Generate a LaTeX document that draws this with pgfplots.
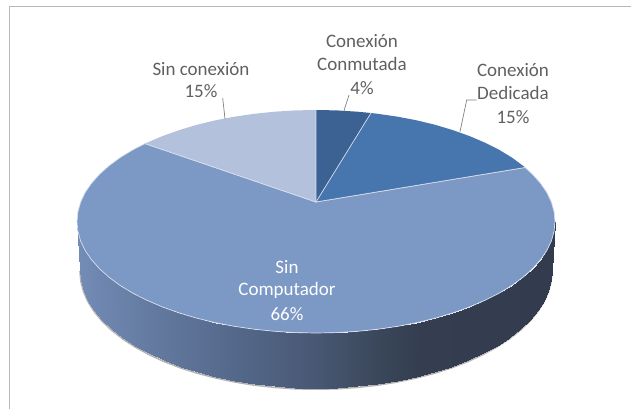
\documentclass[border=0pt]{standalone}
\usepackage{pgfplots}
\usepackage{pgfplotstable}
\pgfplotsset{compat=1.18}
\usepackage{fontspec}
\setmainfont{Carlito}
\definecolor{labelc}{RGB}{96,96,96}
\definecolor{leader}{RGB}{128,128,128}
\definecolor{cSinComp}{RGB}{124,152,196}
\definecolor{cSinCon}{RGB}{179,193,220}
\definecolor{cConm}{RGB}{59,98,146}
\definecolor{cDed}{RGB}{71,117,174}
\definecolor{rim}{RGB}{214,222,236}
\pgfplotstableread{
x y m
77 221.5 77
77.9 231.2 77.9
80.6 240.9 80.6
85.1 250.4 85.1
91.4 259.6 91.4
99.4 268.6 99.4
109 277.25 109
120.2 285.5 120.2
132.9 293.2 132.9
147 300.3 147
162.4 306.9 162.4
178.9 312.8 178.9
196.5 318.1 196.5
215 322.6 215
234.3 326.3 234.3
254.1 329.2 254.1
274.5 331.3 274.5
295.2 332.6 295.2
316 333 316
336.8 332.6 336.8
357.5 331.3 357.5
377.9 329.2 377.9
397.7 326.3 397.7
417 322.6 417
435.5 318.1 435.5
453.1 312.8 453.1
469.6 306.9 469.6
485 300.3 485
499.1 293.2 499.1
511.8 285.5 511.8
523 277.25 523
532.6 268.6 532.6
540.6 259.6 540.6
546.9 250.4 546.9
551.4 240.9 551.4
554.1 231.2 554.1
555 221.5 555
80 270 77
80.9 280.3 77.9
83.6 290.5 80.6
88 300.5 85.1
94.2 310.4 91.4
102.1 319.9 99.4
111.6 329 109
122.7 337.7 120.2
135.2 345.8 132.9
149.1 353.4 147
164.3 360.4 162.4
180.6 366.7 178.9
198 372.2 196.5
216.3 376.9 215
235.3 380.9 234.3
254.9 384 254.1
275 386.2 274.5
295.4 387.6 295.2
316 388 316
336.6 387.6 336.8
357 386.2 357.5
377.1 384 377.9
396.7 380.9 397.7
415.7 376.9 417
434 372.2 435.5
451.4 366.7 453.1
467.7 360.4 469.6
482.9 353.4 485
496.8 345.8 499.1
509.3 337.7 511.8
520.4 329 523
529.9 319.9 532.6
537.8 310.4 540.6
544 300.5 546.9
548.4 290.5 551.4
551.1 280.3 554.1
552 270 555
}\sidetable
\begin{document}
\begin{tikzpicture}
\begin{axis}[
  at={(0,0)}, anchor=south west,
  scale only axis, width=631pt, height=409pt,
  xmin=0, xmax=631, ymin=0, ymax=409, y dir=reverse,
  axis lines=none, clip=true,
  colormap={side}{rgb255(0.77cm)=(115,140,182); rgb255(1.5cm)=(100,122,160); rgb255(2.3cm)=(85,105,140); rgb255(3.16cm)=(72,88,115); rgb255(3.8cm)=(58,70,90); rgb255(4.2cm)=(52,62,80); rgb255(5.55cm)=(50,60,78)},
  point meta min=77, point meta max=555,
]
\path (axis cs:0,0) rectangle (axis cs:631,409);
% frame
\addplot[color=black!28, line width=1.6pt, forget plot] coordinates {(9.5,409) (9.5,6.5) (631,6.5)};
% shadow below the side
\addplot[color=black!30, line width=1.6pt, yshift=-1.2pt, forget plot] table[x=x,y=y,skip coords between index={0}{37}] {\sidetable};
% side
\addplot[surf, shader=interp, mesh/rows=2, mesh/ordering=x varies, point meta=explicit, forget plot] table[x=x,y=y,meta=m] {\sidetable};
% wedges
\addplot[fill=cSinComp, draw=rim, line width=0.7pt, forget plot] coordinates {
(316,202) (525,167.5) (532.6,174.4) (540.6,183.4) (546.9,192.6) (551.4,202.1) (554.1,211.8) (555,221.5)
(554.1,231.2) (551.4,240.9) (546.9,250.4) (540.6,259.6) (532.6,268.6) (523,277.25) (511.8,285.5) (499.1,293.2) (485,300.3) (469.6,306.9) (453.1,312.8) (435.5,318.1) (417,322.6) (397.7,326.3) (377.9,329.2) (357.5,331.3) (336.8,332.6) (316,333)
(295.2,332.6) (274.5,331.3) (254.1,329.2) (234.3,326.3) (215,322.6) (196.5,318.1) (178.9,312.8) (162.4,306.9) (147,300.3) (132.9,293.2) (120.2,285.5) (109,277.25) (99.4,268.6) (91.4,259.6) (85.1,250.4) (80.6,240.9) (77.9,231.2) (77,221.5)
(77.9,211.8) (80.6,202.1) (85.1,192.6) (91.4,183.4) (99.4,174.4) (109,165.75) (120.2,157.5) (132.9,149.8) (145,143.6)
} --cycle;
\addplot[fill=cSinCon, draw=none, forget plot] coordinates {
(316,202) (145,143.6) (147,142.7) (162.4,136.1) (178.9,130.2) (196.5,124.9) (215,120.4) (234.3,116.7) (254.1,113.8) (274.5,111.7) (295.2,110.4) (316,110)
} --cycle;
\addplot[fill=cConm, draw=none, forget plot] coordinates {
(316,202) (316,110) (336.8,110.4) (357.5,111.7) (371,113)
} --cycle;
\addplot[fill=cDed, draw=none, forget plot] coordinates {
(316,202) (371,113) (377.9,113.8) (397.7,116.7) (417,120.4) (435.5,124.9) (453.1,130.2) (469.6,136.1) (485,142.7) (499.1,149.8) (511.8,157.5) (523,165.75) (525,167.5)
} --cycle;
% separators
\addplot[color=rim, line width=0.7pt, forget plot] coordinates {(371,113) (316,202) (525,167.5)};
\addplot[color=rim, line width=0.7pt, forget plot] coordinates {(316,110) (316,202) (145,143.6)};
% leaders
\addplot[color=leader, line width=0.7pt, forget plot] coordinates {(222.7,98) (225,119)};
\addplot[color=leader, line width=0.7pt, forget plot] coordinates {(349,95) (344,110.7)};
\addplot[color=leader, line width=0.7pt, forget plot] coordinates {(476.7,100) (466.7,100) (460,131.7)};
% labels
\def\lab#1#2#3#4{\node[anchor=center, text=#4, inner sep=0pt, font=\fontsize{19}{19}\selectfont] at (axis cs:#1,#2) {#3};}
\lab{362}{41}{Conexión}{labelc}
\lab{362}{64}{Conmutada}{labelc}
\lab{362}{88}{4\%}{labelc}
\lab{201}{69}{Sin conexión}{labelc}
\lab{201}{91}{15\%}{labelc}
\lab{513}{70}{Conexión}{labelc}
\lab{513}{93}{Dedicada}{labelc}
\lab{513}{117}{15\%}{labelc}
\lab{287}{267}{Sin}{white}
\lab{287}{290}{Computador}{white}
\lab{287}{314}{66\%}{white}
\end{axis}
\end{tikzpicture}
\end{document}
